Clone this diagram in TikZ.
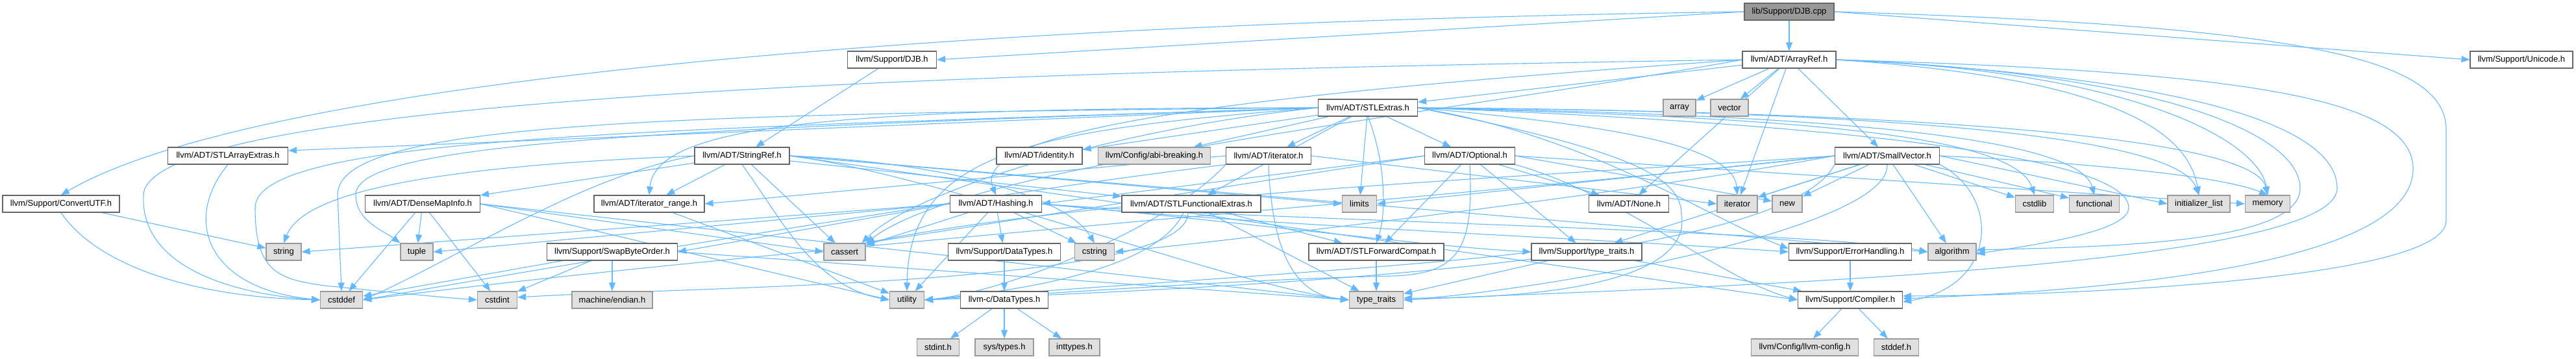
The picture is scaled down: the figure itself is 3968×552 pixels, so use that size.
\documentclass[tikz,border=0pt]{standalone}
\usepackage{fontspec}
\setmainfont{Liberation Sans}
\usetikzlibrary{arrows.meta}
\definecolor{edgec}{HTML}{63B8FF}
\definecolor{boxb}{HTML}{666666}
\definecolor{extb}{HTML}{999999}
\definecolor{extf}{HTML}{E0E0E0}
\definecolor{rootf}{HTML}{999999}
\pgfdeclarelayer{bg}
\pgfsetlayers{bg,main}
\tikzset{
 nb/.style={draw=boxb, fill=white, line width=1.2pt, minimum height=26pt, inner sep=0pt, font=\fontsize{13}{15}\selectfont, text=black},
 ext/.style={nb, draw=extb, fill=extf},
 root/.style={nb, draw=boxb, fill=rootf},
 e/.style={draw=edgec, line width=1.1pt, -{Triangle[length=13pt,width=10pt]}},
}
\begin{document}
\begin{tikzpicture}[x=1pt,y=1pt]
\useasboundingbox (0,0) rectangle (3968,-552);
% row 0
\node[root,minimum width=138pt] (djbcpp) at (2756,-18) {lib/Support/DJB.cpp};
% row 1
\node[nb,minimum width=137pt] (djbh) at (1374,-92) {llvm/Support/DJB.h};
\node[nb,minimum width=144pt] (arrayref) at (2756,-92) {llvm/ADT/ArrayRef.h};
\node[nb,minimum width=158pt] (unicode) at (3884,-92) {llvm/Support/Unicode.h};
% row 2
\node[nb,minimum width=153pt] (stlextras) at (2107,-166) {llvm/ADT/STLExtras.h};
\node[ext,minimum width=50pt] (array) at (2587,-166) {array};
\node[ext,minimum width=58pt] (vector) at (2664,-166) {vector};
% row 3
\node[nb,minimum width=185pt] (stlarrayextras) at (351,-240) {llvm/ADT/STLArrayExtras.h};
\node[nb,minimum width=146pt] (stringref) at (1143,-240) {llvm/ADT/StringRef.h};
\node[nb,minimum width=132pt] (identity) at (1601,-240) {llvm/ADT/identity.h};
\node[ext,minimum width=173pt] (abibreaking) at (1778,-240) {llvm/Config/abi-breaking.h};
\node[nb,minimum width=131pt] (iteratorh) at (1954,-240) {llvm/ADT/iterator.h};
\node[nb,minimum width=139pt] (optional) at (2264,-240) {llvm/ADT/Optional.h};
\node[nb,minimum width=161pt] (smallvector) at (2907,-240) {llvm/ADT/SmallVector.h};
% row 4
\node[nb,minimum width=180pt] (convertutf) at (94,-314) {llvm/Support/ConvertUTF.h};
\node[nb,minimum width=177pt] (densemapinfo) at (651,-314) {llvm/ADT/DenseMapInfo.h};
\node[nb,minimum width=170pt] (iterrange) at (1000,-314) {llvm/ADT/iterator\_range.h};
\node[nb,minimum width=141pt] (hashing) at (1534,-314) {llvm/ADT/Hashing.h};
\node[nb,minimum width=214pt] (stlfunc) at (1835,-314) {llvm/ADT/STLFunctionalExtras.h};
\node[ext,minimum width=53pt] (limits) at (2094,-314) {limits};
\node[nb,minimum width=123pt] (noneh) at (2509,-314) {llvm/ADT/None.h};
\node[ext,minimum width=62pt] (iterator) at (2676,-314) {iterator};
\node[ext,minimum width=46pt] (new) at (2753,-314) {new};
\node[ext,minimum width=59pt] (cstdlib) at (3134,-314) {cstdlib};
\node[ext,minimum width=77pt] (functional) at (3226,-314) {functional};
\node[ext,minimum width=96pt] (initlist) at (3387,-314) {initializer\_list};
\node[ext,minimum width=69pt] (memory) at (3493,-314) {memory};
% row 5
\node[ext,minimum width=54pt] (string) at (437,-388) {string};
\node[ext,minimum width=50pt] (tuple) at (642,-388) {tuple};
\node[nb,minimum width=201pt] (swapbyte) at (943,-388) {llvm/Support/SwapByteOrder.h};
\node[ext,minimum width=64pt] (cassert) at (1301,-388) {cassert};
\node[nb,minimum width=173pt] (datatypes) at (1547,-388) {llvm/Support/DataTypes.h};
\node[ext,minimum width=61pt] (cstring) at (1686,-388) {cstring};
\node[nb,minimum width=208pt] (stlfwd) at (2120,-388) {llvm/ADT/STLForwardCompat.h};
\node[nb,minimum width=170pt] (typetraitsh) at (2444,-388) {llvm/Support/type\_traits.h};
\node[nb,minimum width=189pt] (errorh) at (2850,-388) {llvm/Support/ErrorHandling.h};
\node[ext,minimum width=74pt] (algorithm) at (3007,-388) {algorithm};
% row 6
\node[ext,minimum width=65pt] (cstddef) at (526,-462) {cstddef};
\node[ext,minimum width=61pt] (cstdint) at (766,-462) {cstdint};
\node[ext,minimum width=124pt] (endian) at (943,-462) {machine/endian.h};
\node[ext,minimum width=53pt] (utility) at (1397,-462) {utility};
\node[nb,minimum width=135pt] (llvmc) at (1547,-462) {llvm-c/DataTypes.h};
\node[ext,minimum width=83pt] (typetraits) at (2120,-462) {type\_traits};
\node[nb,minimum width=161pt] (compiler) at (2850,-462) {llvm/Support/Compiler.h};
% row 7
\node[ext,minimum width=65pt] (stdinth) at (1445,-535) {stdint.h};
\node[ext,minimum width=90pt] (systypes) at (1547,-535) {sys/types.h};
\node[ext,minimum width=78pt] (inttypes) at (1655,-535) {inttypes.h};
\node[ext,minimum width=165pt] (llvmconfig) at (2780,-535) {llvm/Config/llvm-config.h};
\node[ext,minimum width=69pt] (stddefh) at (2921,-535) {stddef.h};

\begin{pgfonlayer}{bg}
% DJB.cpp
\draw[e] (djbcpp) -- (arrayref);
\draw[e] (djbcpp.west) -- (djbh.east);
\draw[e] (djbcpp.west) .. controls (1200,-40) and (350,-150) .. (convertutf.north);
\draw[e] (djbcpp.east) -- (unicode.west);
\draw[e] (djbcpp.east) .. controls (3550,-40) and (3768,-90) .. (3768,-200) -- (3768,-340) .. controls (3768,-430) and (3200,-455) .. ([yshift=6pt]compiler.east);
% ArrayRef
\draw[e] (arrayref) -- (stlextras);
\draw[e] (arrayref) -- (array);
\draw[e] (arrayref) -- (vector);
\draw[e] (arrayref.west) .. controls (2000,-140) and (1490,-190) .. (hashing.north);
\draw[e] (arrayref) -- (noneh);
\draw[e] (arrayref) -- (smallvector);
\draw[e] (arrayref) -- (iterator);
\draw[e] (arrayref.east) .. controls (3450,-110) and (3717,-150) .. (3717,-260) .. controls (3717,-400) and (3300,-445) .. ([yshift=2pt]compiler.east);
\draw[e] (arrayref.east) .. controls (3300,-110) and (3543,-200) .. (3543,-290) .. controls (3543,-375) and (3250,-380) .. ([yshift=3pt]algorithm.east);
\draw[e] (arrayref.west) .. controls (2200,-180) and (1500,-250) .. (cassert.north east);
\draw[e] (arrayref.west) .. controls (1500,-110) and (230,-150) .. (221,-300) .. controls (215,-420) and (380,-455) .. (cstddef.west);
\draw[e] (arrayref.east) .. controls (3250,-120) and (3370,-200) .. (initlist.north);
\draw[e] (arrayref.east) .. controls (3300,-110) and (3480,-220) .. (memory.north);
\draw[e] (arrayref.east) .. controls (3400,-120) and (3600,-200) .. (3600,-290) .. controls (3600,-420) and (2500,-445) .. (typetraits.east);
% DJB.h
\draw[e] (djbh) -- (stringref);
% ConvertUTF
\draw[e] (convertutf) -- (string);
\draw[e] (convertutf.south) .. controls (150,-410) and (300,-458) .. (cstddef.west);
% STLExtras
\draw[e] (stlextras) -- (optional);
\draw[e] (stlextras.west) -- ([yshift=8pt]stlarrayextras.east);
\draw[e] (stlextras.south) .. controls (2135,-250) and (2135,-330) .. (stlfwd.north);
\draw[e] (stlextras) -- (stlfunc);
\draw[e] (stlextras) -- (identity);
\draw[e] (stlextras) -- (iteratorh);
\draw[e] (stlextras.west) .. controls (1300,-166) and (1010,-190) .. (iterrange.north);
\draw[e] (stlextras) -- (abibreaking);
\draw[e] (stlextras.east) .. controls (2450,-210) and (2620,-330) .. ([yshift=5pt]errorh.west);
\draw[e] (stlextras.east) .. controls (2700,-185) and (3279,-230) .. (3279,-320) .. controls (3279,-355) and (3150,-375) .. ([yshift=-3pt]algorithm.east);
\draw[e] (stlextras.west) .. controls (1700,-200) and (1400,-300) .. ([xshift=-6pt]cassert.north east);
\draw[e] (stlextras.west) .. controls (1000,-175) and (520,-190) .. (520,-300) -- (cstddef.north);
\draw[e] (stlextras.west) .. controls (1000,-200) and (393,-210) .. (393,-320) .. controls (393,-420) and (430,-430) .. (500,-440) .. controls (600,-450) and (680,-458) .. (cstdint.west);
\draw[e] (stlextras.east) .. controls (2700,-180) and (3100,-200) .. (cstdlib.north);
\draw[e] (stlextras.east) .. controls (2700,-175) and (3200,-200) .. (functional.north);
\draw[e] (stlextras.east) .. controls (2800,-170) and (3350,-200) .. (initlist.north);
\draw[e] (stlextras.east) .. controls (2450,-190) and (2670,-220) .. (iterator.north);
\draw[e] (stlextras) -- (limits);
\draw[e] (stlextras.east) .. controls (2800,-170) and (3470,-200) .. (memory.north);
\draw[e] (stlextras.west) .. controls (1000,-200) and (548,-220) .. (548,-300) .. controls (548,-340) and (590,-355) .. (tuple.north west);
\draw[e] (stlextras.east) .. controls (2500,-230) and (2590,-270) .. (2590,-330) .. controls (2610,-450) and (2300,-460) .. ([yshift=3pt]typetraits.east);
\draw[e] (stlextras.west) .. controls (1600,-200) and (1400,-230) .. (utility.north);
% StringRef
\draw[e] (stringref) -- (densemapinfo);
\draw[e] (stringref) -- (stlfunc);
\draw[e] (stringref) -- (iterrange);
\draw[e] (stringref.east) -- (compiler.west);
\draw[e] (stringref.east) -- (algorithm.west);
\draw[e] (stringref) -- (cassert);
\draw[e] (stringref.west) .. controls (900,-270) and (700,-400) .. (cstddef.east);
\draw[e] (stringref.east) .. controls (1450,-250) and (1640,-300) .. (cstring.north);
\draw[e] (stringref.east) -- (limits.west);
\draw[e] (stringref.west) .. controls (700,-255) and (470,-290) .. (string.north);
\draw[e] (stringref.east) .. controls (1450,-270) and (1900,-440) .. (typetraits.west);
\draw[e] (stringref.south) .. controls (1200,-330) and (1250,-440) .. (utility.west);
% STLArrayExtras
\draw[e] (stlarrayextras.south) .. controls (280,-340) and (320,-445) .. (cstddef.west);
% iterator.h
\draw[e] (iteratorh.west) -- (iterrange.east);
\draw[e] (iteratorh.south west) .. controls (1500,-300) and (800,-420) .. (cstddef.east);
\draw[e] (iteratorh.east) -- (iterator.west);
\draw[e] (iteratorh.south) .. controls (1960,-400) and (2000,-455) .. (typetraits.west);
\draw[e] (iteratorh.south west) .. controls (1800,-350) and (1550,-450) .. (utility.east);
% Optional
\draw[e] (optional.west) -- (hashing.east);
\draw[e] (optional) -- (noneh);
\draw[e] (optional) -- (stlfwd);
\draw[e] (optional.south east) .. controls (2500,-300) and (2650,-430) .. (compiler.west);
\draw[e] (optional) -- (typetraitsh);
\draw[e] (optional.west) -- (cassert.north east);
\draw[e] (optional.east) -- (memory.west);
\draw[e] (optional.east) -- (new);
\draw[e] (optional.south) .. controls (2270,-380) and (2250,-420) .. (2150,-425) .. controls (1900,-430) and (1600,-455) .. (utility.east);
% SmallVector
\draw[e] (smallvector.south east) .. controls (3080,-300) and (3080,-440) .. ([yshift=-3pt]compiler.east);
\draw[e] (smallvector) -- (typetraitsh);
\draw[e] (smallvector) -- (algorithm);
\draw[e] (smallvector.west) .. controls (2400,-270) and (1700,-300) .. (cassert.north east);
\draw[e] (smallvector.west) .. controls (2300,-300) and (1200,-380) .. (cstddef.east);
\draw[e] (smallvector) -- (cstdlib);
\draw[e] (smallvector.west) .. controls (2500,-300) and (1900,-370) .. (cstring.east);
\draw[e] (smallvector) -- (functional);
\draw[e] (smallvector.east) -- (initlist.west);
\draw[e] (smallvector) -- (iterator);
\draw[e] (smallvector.west) -- (limits.east);
\draw[e] (smallvector.east) .. controls (3200,-250) and (3420,-270) .. (memory.north);
\draw[e] (smallvector) -- (new);
\draw[e] (smallvector.south) .. controls (2912,-350) and (2400,-445) .. (typetraits.east);
\draw[e] (smallvector.south west) .. controls (2750,-400) and (2000,-440) .. (utility.east);
% DenseMapInfo
\draw[e] (densemapinfo.east) -- (cassert.west);
\draw[e] (densemapinfo) -- (cstddef);
\draw[e] (densemapinfo) -- (cstdint);
\draw[e] (densemapinfo) -- (tuple);
\draw[e] (densemapinfo.east) -- (typetraits.west);
\draw[e] (densemapinfo.east) -- (utility.west);
% iterator_range
\draw[e] (iterrange) -- (utility);
% Hashing
\draw[e] (hashing) -- (datatypes);
\draw[e] (hashing.east) .. controls (1900,-345) and (2500,-370) .. (errorh.west);
\draw[e] (hashing.west) -- (swapbyte.east);
\draw[e] (hashing.east) .. controls (1900,-340) and (2200,-380) .. (typetraitsh.west);
\draw[e] (hashing.east) .. controls (1900,-338) and (2800,-355) .. (algorithm.west);
\draw[e] (hashing) -- (cassert);
\draw[e] (hashing) -- (cstring);
\draw[e] (hashing.west) -- (string.east);
\draw[e] (hashing.west) -- (tuple.east);
\draw[e] (hashing) -- (utility);
% STLFunctionalExtras
\draw[e] (stlfunc) -- (stlfwd);
\draw[e] ([xshift=-5pt]stlfunc.south) .. controls (1830,-440) and (1100,-440) .. ([yshift=4pt]cstdint.east);
\draw[e] (stlfunc) -- (typetraits);
\draw[e] ([xshift=-12pt]stlfunc.south) .. controls (1780,-420) and (1550,-450) .. (utility.east);
% SwapByteOrder
\draw[e] (swapbyte) -- (cstddef);
\draw[e] (swapbyte) -- (cstdint);
\draw[e] (swapbyte) -- (endian);
\draw[e] (swapbyte.east) -- (typetraits.west);
% others
\draw[e] (datatypes) -- (llvmc);
\draw[e] (llvmc) -- (stdinth);
\draw[e] (llvmc) -- (systypes);
\draw[e] (llvmc) -- (inttypes);
\draw[e] (stlfwd) -- (typetraits);
\draw[e] (typetraitsh) -- (compiler);
\draw[e] (typetraitsh) -- (typetraits);
\draw[e] (typetraitsh.west) .. controls (2200,-410) and (1700,-440) .. (utility.east);
\draw[e] (errorh) -- (compiler);
\draw[e] (compiler) -- (llvmconfig);
\draw[e] (compiler) -- (stddefh);
\end{pgfonlayer}
\end{tikzpicture}
\end{document}
